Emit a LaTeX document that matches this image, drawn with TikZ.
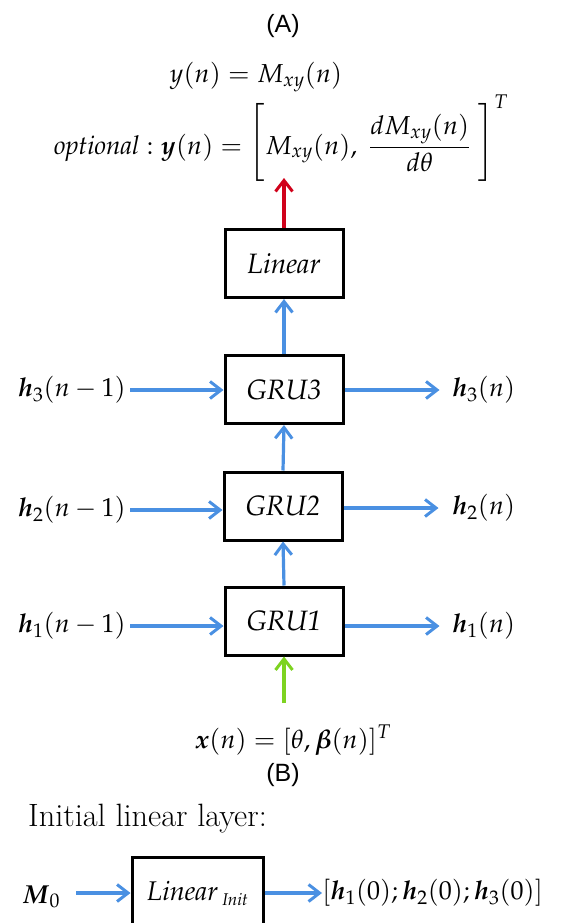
\documentclass[tikz,border=0pt]{standalone}
\usepackage{amsmath}
\usepackage{graphicx}
\usepackage[sc]{mathpazo}
\usepackage[no-math]{fontspec}
\newfontfamily\arialfont{Liberation Sans}
\usetikzlibrary{arrows.meta}
\definecolor{cblue}{RGB}{74,144,226}
\definecolor{cred}{RGB}{208,2,27}
\definecolor{cgreen}{RGB}{126,211,33}
\newcommand{\tallbrk}[1]{\raisebox{5.5pt}{$\Bigg#1$}}
\tikzset{
  blk/.style={draw=black, line width=3pt, minimum width=118pt, minimum height=68pt, inner sep=0pt, font=\fontsize{28}{32}\selectfont},
  lbl/.style={inner sep=0pt, font=\fontsize{26}{30}\selectfont},
  conn/.style={line width=3.2pt, -{Straight Barb[length=11pt,width=17pt,line width=3pt]}},
  bl/.style={conn, draw=cblue},
  rd/.style={conn, draw=cred},
  gr/.style={conn, draw=cgreen},
  sec/.style={inner sep=0pt, font=\arialfont\fontsize{25}{28}\selectfont},
}
\begin{document}
\begin{tikzpicture}[x=1pt,y=-1pt]
\useasboundingbox (0,0) rectangle (560,923);
\node[sec] (A) at (283,26) {(A)};
\node[lbl] (out1) at (256,77) {$y(n) = M_{xy}(n)$};
\node[lbl, anchor=base] (out2) at (281,154) {$\mathit{optional}:\boldsymbol{y}(n) = \tallbrk{[}M_{xy}(n),\ \dfrac{dM_{xy}(n)}{d\theta}\ \tallbrk{]}^{T}$};
\coordinate (redtip) at (284,178);

\node[blk] (lin) at (284,263.5) {$\mathit{Linear}$};
\node[blk] (g3) at (284,389.5) {$\mathit{GRU3}$};
\node[blk] (g2) at (283,506) {$\mathit{GRU2}$};
\node[blk] (g1) at (284,621) {$\mathit{GRU1}$};

\node[lbl, anchor=east] (h3in) at (126,390) {$\boldsymbol{h}_3(n-1)$};
\node[lbl, anchor=east] (h2in) at (126,510) {$\boldsymbol{h}_2(n-1)$};
\node[lbl, anchor=east] (h1in) at (126,626) {$\boldsymbol{h}_1(n-1)$};
\node[lbl, anchor=west] (h3out) at (452,390) {$\boldsymbol{h}_3(n)$};
\node[lbl, anchor=west] (h2out) at (452,508) {$\boldsymbol{h}_2(n)$};
\node[lbl, anchor=west] (h1out) at (452,626) {$\boldsymbol{h}_1(n)$};

\node[lbl] (xin) at (293,740) {$\boldsymbol{x}(n) = [\theta, \boldsymbol{\beta}(n)]^T$};
\coordinate (gbase) at (284,703);

\draw[rd] (lin.north) -- (redtip);
\draw[bl] (g3.north) -- (lin.south);
\draw[bl] (g2.north) -- (g3.south);
\draw[bl] (g1.north) -- (g2.south);
\draw[gr] (gbase) -- (g1.south);
\draw[bl] (h3in.east) ++(4,0) -- (g3.west |- h3in.east);
\draw[bl] (h2in.east) ++(4,0) -- (g2.west |- h2in.east);
\draw[bl] (h1in.east) ++(4,0) -- (g1.west |- h1in.east);
\draw[bl] (g3.east |- h3out.west) -- ++(95,0);
\draw[bl] (g2.east |- h2out.west) -- ++(95,0);
\draw[bl] (g1.east |- h1out.west) -- ++(95,0);

\node[sec] (B) at (283,775) {(B)};
\node[inner sep=0pt, anchor=base west, font=\fontsize{32.3}{36}\selectfont] (init) at (28,826) {Initial linear layer:};
\node[lbl] (m0) at (41,897) {$\boldsymbol{M}_0$};
\node[blk, minimum width=131pt, minimum height=72pt, font=\fontsize{27}{30}\selectfont] (li) at (197.5,893) {$\mathit{Linear}$\,\raisebox{-5pt}{\fontsize{17}{18}\selectfont$\mathit{Init}$}};
\node[lbl, anchor=west] (h0) at (322,893) {$[\boldsymbol{h}_1(0);\boldsymbol{h}_2(0);\boldsymbol{h}_3(0)]$};
\draw[bl] (76,893) -- (li.west);
\draw[bl] (li.east) -- (h0.west);
\end{tikzpicture}
\end{document}
